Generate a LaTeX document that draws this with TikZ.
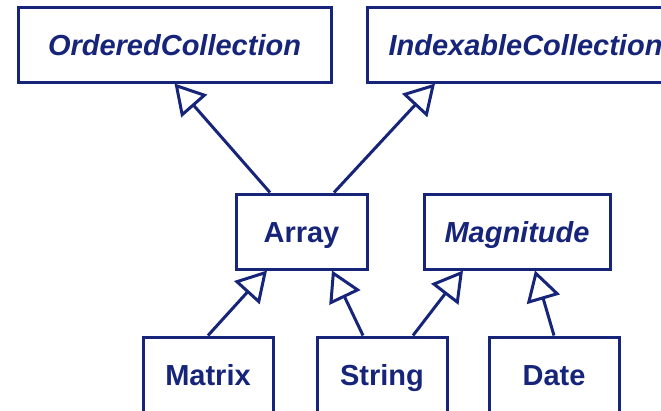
\documentclass[tikz,border=0pt]{standalone}
\usepackage{fontspec}
\setmainfont{Liberation Sans}
\usetikzlibrary{arrows.meta}
\definecolor{navy}{RGB}{22,36,122}

\begin{document}
\begin{tikzpicture}[x=1pt, y=1pt, color=navy,
    cls/.style={rectangle, draw, line width=3pt, minimum height=75pt, inner sep=0pt,
      text height=21pt, text depth=0pt, font=\fontsize{29}{35}\selectfont\bfseries},
    abstr/.style={cls, font=\fontsize{29}{35}\selectfont\bfseries\itshape},
    isa/.style={-{Triangle[open, length=30pt, width=34pt]}, line width=3pt}]

      \clip (0,0) rectangle (661,-410);

      \node [abstr, minimum width=313pt]  (oc)  at (174.5,-44.5) {OrderedCollection};
      \node [abstr, minimum width=317pt]  (ic)  at (525.5,-44.5) {IndexableCollection};

      \node [cls, minimum width=131pt]    (arr) at (301.5,-231.5) {Array};
      \node [abstr, minimum width=186pt]  (mag) at (517,-231.5)   {Magnitude};

      \node [cls, minimum width=130pt]    (mat) at (208,-374.5) {Matrix};
      \node [cls, minimum width=130pt]    (str) at (382,-374.5) {String};
      \node [cls, minimum width=130pt]    (dat) at (554,-374.5) {Date};

      \draw [isa] ([xshift=-31.5pt]arr.north) to (oc.south);
      \draw [isa] ([xshift=32.5pt]arr.north)  to ([xshift=-90.5pt]ic.south);
      \draw [isa] (mat.north)                 to ([xshift=-34.5pt]arr.south);
      \draw [isa] ([xshift=-19pt]str.north)   to ([xshift=30.5pt]arr.south);
      \draw [isa] ([xshift=31pt]str.north)    to ([xshift=-54pt]mag.south);
      \draw [isa] (dat.north)                 to ([xshift=18pt]mag.south);
    \end{tikzpicture}
\end{document}
